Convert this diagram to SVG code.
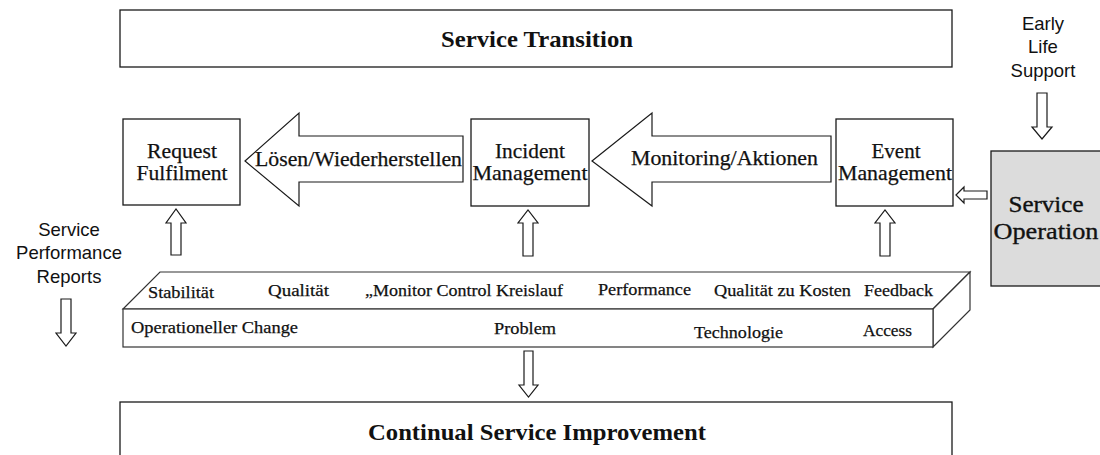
<svg xmlns="http://www.w3.org/2000/svg" width="1100" height="455" viewBox="0 0 1100 455">
  <style>
    .box { fill: #ffffff; stroke: #1a1a1a; stroke-width: 1.3; }
    .grey { fill: #dcdcdc; stroke: #1a1a1a; stroke-width: 1.3; }
    .slab { fill: #ffffff; stroke: #333333; stroke-width: 1.2; stroke-linejoin: miter; }
    .arrow { fill: #ffffff; stroke: #1a1a1a; stroke-width: 1.2; stroke-linejoin: miter; }
    .serif { font-family: "Liberation Serif", "Times New Roman", serif; fill: #111111; stroke: #111111; stroke-width: 0.25; }
    .title { font-weight: bold; font-size: 23px; text-anchor: middle; stroke-width: 0; }
    .lbl { font-size: 21px; text-anchor: middle; }
    .so { font-size: 23.5px; text-anchor: middle; stroke-width: 0.35; }
    .flow { font-size: 20px; }
    .slabtxt { font-size: 17px; }
    .sans { font-family: "Liberation Sans", Arial, sans-serif; font-size: 18.5px; fill: #111111; text-anchor: middle; }
  </style>

  <!-- Lifecycle stages -->
  <g id="service-transition">
    <rect class="box" x="120" y="10" width="832" height="57"/>
    <text class="serif title" x="537" y="47" textLength="192" lengthAdjust="spacingAndGlyphs">Service Transition</text>
  </g>

  <g id="continual-service-improvement">
    <rect class="box" x="120" y="402" width="832" height="70"/>
    <text class="serif title" x="537" y="440" textLength="338" lengthAdjust="spacingAndGlyphs">Continual Service Improvement</text>
  </g>

  <g id="service-operation">
    <rect class="grey" x="991" y="151" width="130" height="135"/>
    <text class="serif so" x="1046" y="212" textLength="75" lengthAdjust="spacingAndGlyphs">Service</text>
    <text class="serif so" x="1046" y="239" textLength="105" lengthAdjust="spacingAndGlyphs">Operation</text>
  </g>

  <!-- Processes -->
  <g id="request-fulfilment">
    <rect class="box" x="123" y="119" width="117" height="86"/>
    <text class="serif lbl" x="182" y="158" textLength="70" lengthAdjust="spacingAndGlyphs">Request</text>
    <text class="serif lbl" x="182" y="180" textLength="91" lengthAdjust="spacingAndGlyphs">Fulfilment</text>
  </g>

  <g id="incident-management">
    <rect class="box" x="471" y="119" width="118" height="87"/>
    <text class="serif lbl" x="530" y="158" textLength="70" lengthAdjust="spacingAndGlyphs">Incident</text>
    <text class="serif lbl" x="530" y="180" textLength="115" lengthAdjust="spacingAndGlyphs">Management</text>
  </g>

  <g id="event-management">
    <rect class="box" x="836" y="119" width="117" height="87"/>
    <text class="serif lbl" x="896" y="158" textLength="49" lengthAdjust="spacingAndGlyphs">Event</text>
    <text class="serif lbl" x="895" y="180" textLength="114" lengthAdjust="spacingAndGlyphs">Management</text>
  </g>

  <!-- Side notes -->
  <g id="early-life-support">
    <text class="sans" x="1043" y="30">Early</text>
    <text class="sans" x="1043" y="53">Life</text>
    <text class="sans" x="1043" y="77">Support</text>
  </g>

  <g id="service-performance-reports">
    <text class="sans" x="69" y="236">Service</text>
    <text class="sans" x="69" y="259">Performance</text>
    <text class="sans" x="69" y="283">Reports</text>
  </g>

  <!-- Operational base slab -->
  <g id="operations-base">
    <polygon class="slab" points="123,309 160,272 970,272 933,309"/>
    <polygon class="slab" points="933,309 970,272 970,310 933,347"/>
    <rect class="slab" x="123" y="309" width="810" height="38"/>
    <text class="serif slabtxt" x="148" y="298" textLength="66" lengthAdjust="spacingAndGlyphs">Stabilität</text>
    <text class="serif slabtxt" x="268" y="296" textLength="61" lengthAdjust="spacingAndGlyphs">Qualität</text>
    <text class="serif slabtxt" x="365" y="296" textLength="198" lengthAdjust="spacingAndGlyphs">„Monitor Control Kreislauf</text>
    <text class="serif slabtxt" x="598" y="295" textLength="93" lengthAdjust="spacingAndGlyphs">Performance</text>
    <text class="serif slabtxt" x="714" y="296" textLength="137" lengthAdjust="spacingAndGlyphs">Qualität zu Kosten</text>
    <text class="serif slabtxt" x="864" y="296" textLength="69" lengthAdjust="spacingAndGlyphs">Feedback</text>
    <text class="serif slabtxt" x="131" y="333" textLength="167" lengthAdjust="spacingAndGlyphs">Operationeller Change</text>
    <text class="serif slabtxt" x="494" y="334" textLength="62" lengthAdjust="spacingAndGlyphs">Problem</text>
    <text class="serif slabtxt" x="694" y="338" textLength="89" lengthAdjust="spacingAndGlyphs">Technologie</text>
    <text class="serif slabtxt" x="863" y="336" textLength="49" lengthAdjust="spacingAndGlyphs">Access</text>
  </g>

  <!-- Connectors: hollow block arrows -->
  <g id="connectors">
    <!-- Incident Management to Request Fulfilment -->
    <polygon class="arrow" points="245,161 299,113 299,136 463,136 463,182 299,182 299,206"/>
    <text class="serif flow" x="255" y="166" textLength="207" lengthAdjust="spacingAndGlyphs">Lösen/Wiederherstellen</text>

    <!-- Event Management to Incident Management -->
    <polygon class="arrow" points="592,161 652,113 652,136 831,136 831,182 652,182 652,206"/>
    <text class="serif flow" x="631" y="165" textLength="187" lengthAdjust="spacingAndGlyphs">Monitoring/Aktionen</text>

    <!-- Service Operation to Event Management -->
    <polygon class="arrow" points="956,195 964,187 964,191 987,191 987,199 964,199 964,203"/>

    <!-- Early Life Support down to Service Operation -->
    <polygon class="arrow" points="1037,93 1047,93 1047,127 1052,127 1042,139 1032,127 1037,127"/>

    <!-- Service Performance Reports downward -->
    <polygon class="arrow" points="61,299 71,299 71,333 76,333 66,346 56,333 61,333"/>

    <!-- Base slab up to the processes -->
    <polygon class="arrow" points="171,255 181,255 181,223 186,223 176,209 166,223 171,223"/>
    <polygon class="arrow" points="523,256 533,256 533,223 538,223 528,210 518,223 523,223"/>
    <polygon class="arrow" points="880,256 890,256 890,223 895,223 885,210 875,223 880,223"/>

    <!-- Base slab down to Continual Service Improvement -->
    <polygon class="arrow" points="524,351 533,351 533,385 538,385 528.5,397 519,385 524,385"/>
  </g>
</svg>
